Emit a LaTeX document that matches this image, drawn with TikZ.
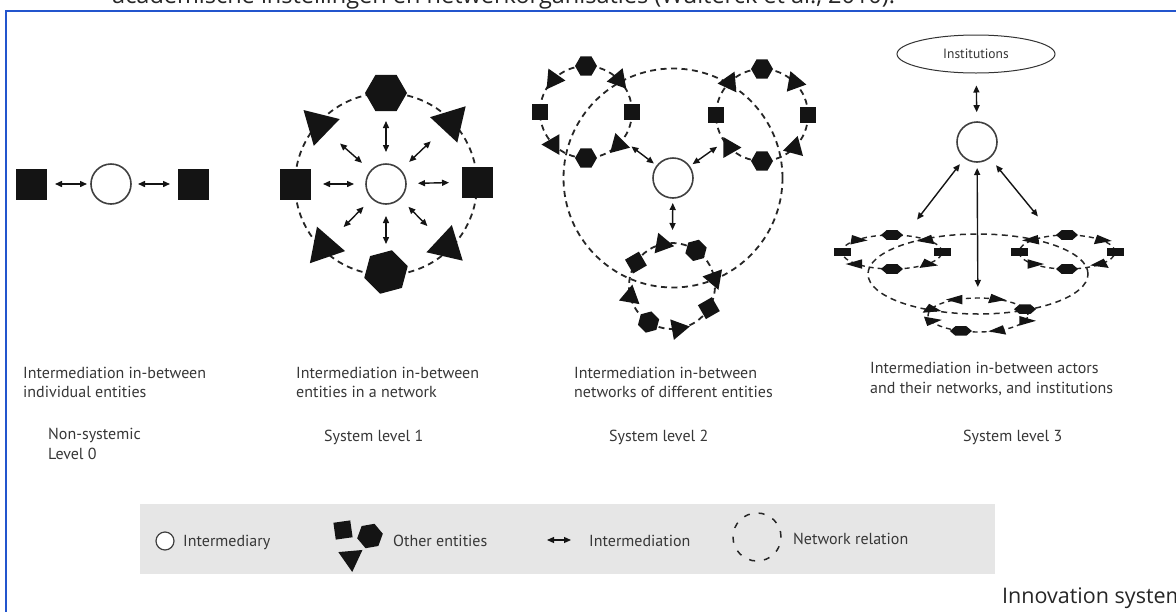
\documentclass[tikz,border=0pt]{standalone}
\usepackage{fontspec}
\setmainfont{PT Sans}
\newfontfamily\segoe{Open Sans}
\usetikzlibrary{shapes.geometric,arrows.meta,calc}
\definecolor{frameblue}{RGB}{35,85,205}
\definecolor{legendgray}{RGB}{230,230,230}
\definecolor{ink}{RGB}{20,20,20}
\definecolor{txt}{RGB}{55,55,55}
\begin{document}
\begin{tikzpicture}[x=1pt,y=-1pt,
  ent/.style={fill=ink,draw=none,inner sep=0pt,outer sep=0pt},
  sqr/.style={ent,rectangle,minimum size=#1},
  hexa/.style={ent,regular polygon,regular polygon sides=6,minimum size=#1},
  tri/.style={ent,regular polygon,regular polygon sides=3,minimum size=#1},
  inter/.style={circle,draw=black!75,line width=1.6pt,fill=white,minimum size=#1,inner sep=0pt},
  net/.style={draw=black!85,line width=1.8pt,dash pattern=on 6pt off 4.5pt,inner sep=0pt},
  dbl/.style={{Triangle[length=7pt,width=6pt]}-{Triangle[length=7pt,width=6pt]},line width=1.4pt,draw=ink},
  lbl/.style={font=\fontsize{16}{19.5}\selectfont,align=left,anchor=north west,inner sep=0pt,text=txt},
  legtxt/.style={font=\fontsize{16}{19}\selectfont,anchor=base west,inner sep=0pt,text=txt},
]
\useasboundingbox (0,0) rectangle (1176,611);
\fill[white] (0,0) rectangle (1176,611);
% frame and cut-off caption line
\node[font=\segoe\fontsize{23.5}{27}\selectfont,anchor=base west,inner sep=0pt,text=black!85] (toptext) at (112,3) {academische instellingen en netwerkorganisaties (Wulterck et al., 2010).};
\draw[frameblue,line width=2.2pt] (6,625) -- (6,11) -- (1190,11);

% ---------- Level 0
\node[sqr=31] (L0a) at (31,184) {};
\node[inter=40] (L0c) at (111,184) {};
\node[sqr=31] (L0b) at (193,184) {};
\draw[dbl,shorten <=24pt,shorten >=24pt] (L0a.center) -- (L0c.center);
\draw[dbl,shorten <=27pt,shorten >=23pt] (L0c.center) -- (L0b.center);

% ---------- Level 1
\node[net,circle,minimum size=182] (L1ring) at (386,184) {};
\node[sqr=31] (L1s1) at (295,184) {};
\node[sqr=31] (L1s2) at (477,182) {};
\node[hexa=42] (L1h1) at (386,93) {};
\node[hexa=45,rotate=15] (L1h2) at (386,272) {};
\node[tri=43,rotate=46] (L1t1) at (319,125) {};
\node[tri=43,rotate=-43] (L1t2) at (451,122) {};
\node[tri=43,rotate=19] (L1t3) at (324,247) {};
\node[tri=43,rotate=-13] (L1t4) at (447,246) {};
\node[inter=40] (L1c) at (386,184) {};
\foreach \t in {L1s1,L1t1,L1h1,L1t2,L1s2,L1t4,L1h2,L1t3}
  \draw[dbl,shorten <=32pt,shorten >=28pt] (L1c.center) -- (\t.center);

% ---------- Level 2
\node[net,circle,minimum size=219] (L2ring) at (673,178) {};
\node[net,circle,minimum size=92] (L2n1) at (586,112) {};
\node[net,circle,minimum size=92] (L2n2) at (762,115) {};
\node[net,circle,minimum size=86] (L2n3) at (672,286) {};
\begin{scope}[shift={(586,112)}]
\foreach \a/\k/\s/\r [count=\i] in {0/sqr/16/0,45/tri/24/-20,90/hexa/22/0,135/tri/24/25,180/sqr/16/0,225/tri/24/-30,270/hexa/22/0,315/tri/24/15}
  \node[\k=\s,rotate=\r] (L2a\i) at ({46*cos(\a)},{-46*sin(\a)}) {};
\end{scope}
\begin{scope}[shift={(762,115)}]
\foreach \a/\k/\s/\r [count=\i] in {0/sqr/16/0,45/tri/24/20,90/hexa/22/0,135/tri/24/-25,180/sqr/16/0,225/tri/24/30,270/hexa/22/0,315/tri/24/-15}
  \node[\k=\s,rotate=\r] (L2b\i) at ({46*cos(\a)},{-46*sin(\a)}) {};
\end{scope}
\begin{scope}[shift={(672,286)}]
\foreach \a/\k/\s/\r [count=\i] in {10/tri/24/-40,56/hexa/22/15,103/tri/24/20,147/sqr/16/30,194/tri/24/-10,237/hexa/22/15,278/tri/24/40,329/sqr/16/30}
  \node[\k=\s,rotate=\r] (L2c\i) at ({43*cos(\a)},{-43*sin(\a)}) {};
\end{scope}
\node[inter=40] (L2c) at (673,178) {};
\draw[dbl,shorten <=24pt,shorten >=57pt] (L2c.center) -- (L2n1.center);
\draw[dbl,shorten <=24pt,shorten >=55pt] (L2c.center) -- (L2n2.center);
\draw[dbl,shorten <=25pt,shorten >=56pt] (L2c.center) -- (L2n3.center);

% ---------- Level 3
\node[ellipse,draw=black!80,line width=1pt,minimum width=158,minimum height=38,inner sep=0pt,font=\fontsize{13.5}{15}\selectfont,text=txt] (L3i) at (976,54) {Institutions};
\node[inter=40] (L3c) at (977,142) {};
\node[net,ellipse,minimum width=220,minimum height=80,line width=1.5pt] (L3ring) at (978,274) {};
\node[net,ellipse,minimum width=100,minimum height=34,line width=1.4pt,dash pattern=on 5pt off 4pt] (L3n1) at (892,252) {};
\node[net,ellipse,minimum width=96,minimum height=34,line width=1.4pt,dash pattern=on 5pt off 4pt] (L3n2) at (1067,252) {};
\node[net,ellipse,minimum width=100,minimum height=34,line width=1.4pt,dash pattern=on 5pt off 4pt] (L3n3) at (978,315) {};
\begin{scope}[shift={(892,252)}]
\foreach \a/\k/\s/\r [count=\i] in {0/sqr/17/0,45/tri/22/-20,90/hexa/22/0,135/tri/22/25,180/sqr/17/0,225/tri/22/-30,270/hexa/22/0,315/tri/22/15}
  \node[\k=\s,yscale=0.5,rotate=\r] (L3a\i) at ({50*cos(\a)},{-17*sin(\a)}) {};
\end{scope}
\begin{scope}[shift={(1067,252)}]
\foreach \a/\k/\s/\r [count=\i] in {0/sqr/17/0,45/tri/22/20,90/hexa/22/0,135/tri/22/-25,180/sqr/17/0,225/tri/22/30,270/hexa/22/0,315/tri/22/-15}
  \node[\k=\s,yscale=0.5,rotate=\r] (L3b\i) at ({48*cos(\a)},{-17*sin(\a)}) {};
\end{scope}
\begin{scope}[shift={(978,315)}]
\foreach \a/\k/\s/\r [count=\i] in {20/hexa/22/0,70/tri/22/20,115/tri/22/-30,160/tri/22/10,200/tri/22/40,250/hexa/22/0,295/tri/22/-20,340/tri/22/30}
  \node[\k=\s,yscale=0.5,rotate=\r] (L3d\i) at ({50*cos(\a)},{-17*sin(\a)}) {};
\end{scope}
\draw[dbl,shorten <=12pt,shorten >=9pt] (L3i) -- (L3c);
\draw[dbl,shorten <=28pt,shorten >=41pt] (L3c.center) -- (L3n1.center);
\draw[dbl,shorten <=26pt,shorten >=28pt] (L3c.center) -- (L3n3.center);
\draw[dbl,shorten <=30pt,shorten >=46pt] (L3c.center) -- (L3n2.center);

% ---------- Labels
\node[lbl] (t0) at (23,366.5) {Intermediation in-between\\individual entities};
\node[lbl] (t0b) at (48,428) {Non-systemic\\Level 0};
\node[lbl] (t1) at (296,366.5) {Intermediation in-between\\entities in a network};
\node[lbl] (t1b) at (324,429.5) {System level 1};
\node[lbl] (t2) at (574,366.5) {Intermediation in-between\\networks of different entities};
\node[lbl] (t2b) at (609,429.5) {System level 2};
\node[lbl] (t3) at (870,362) {Intermediation in-between actors\\and their networks, and institutions};
\node[lbl] (t3b) at (963,429.5) {System level 3};

% ---------- Legend
\node[fill=legendgray,draw=none,inner sep=0pt,minimum width=855,minimum height=70,anchor=north west] (legend) at (140,504) {};
\node[inter=18,line width=1.2pt] (lgc) at (165,541) {};
\node[legtxt] (lgct) at (183,546) {Intermediary};
\node[sqr=17,rotate=8] (lgs) at (343,530) {};
\node[hexa=26,rotate=10] (lgh) at (370,536) {};
\node[tri=28,rotate=185] (lgt) at (351,558) {};
\node[legtxt] (lgst) at (393,546) {Other entities};
\coordinate (lgaL) at (547,540);
\coordinate (lgaR) at (571,540);
\draw[dbl,line width=1.2pt] (lgaL) -- (lgaR);
\node[legtxt] (lgat) at (589,546) {Intermediation};
\node[net,circle,minimum size=48,line width=1.5pt,dash pattern=on 6pt off 9pt] (lgn) at (757,537) {};
\node[legtxt] (lgnt) at (793,544) {Network relation};

\node[font=\segoe\fontsize{21.5}{25}\selectfont,anchor=base west,inner sep=0pt,text=black!85] (innov) at (1002,603) {Innovation system};
\end{tikzpicture}
\end{document}
